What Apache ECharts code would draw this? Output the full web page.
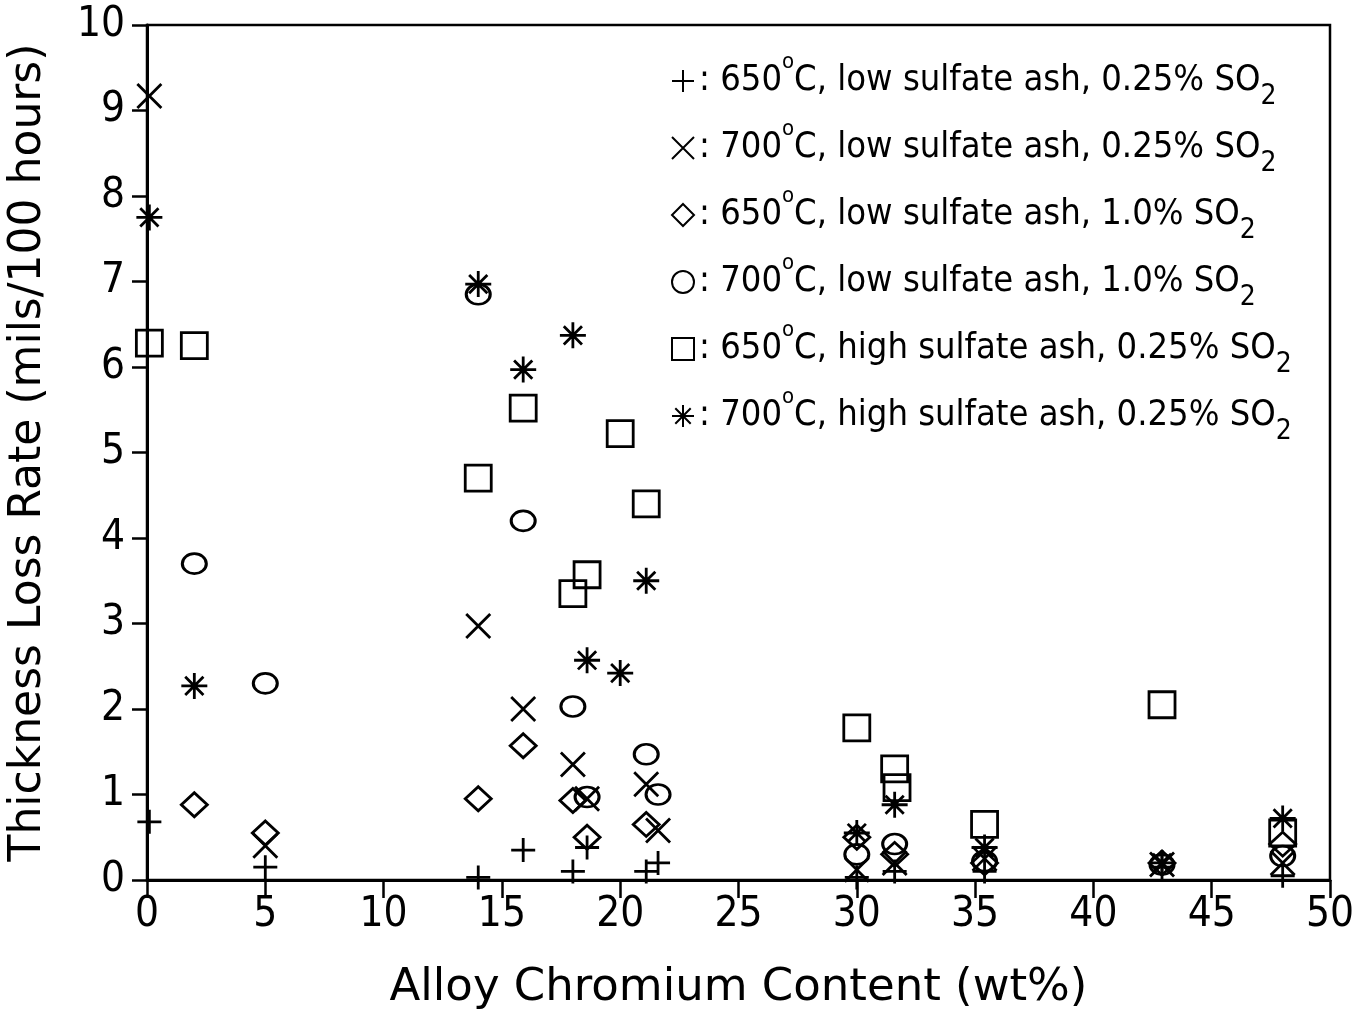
<!DOCTYPE html>
<html>
<head>
<meta charset="utf-8">
<script src="https://cdn.jsdelivr.net/npm/echarts@6/dist/echarts.min.js"></script>
<style>
html,body{margin:0;padding:0;background:#fff;}
#chart{width:1362px;height:1009px;}
</style>
</head>
<body>
<div id="chart"></div>
<script>
// ---- data (x = alloy Cr wt%, y = thickness loss rate, mils/100 h) ----
const xTicks = [0,5,10,15,20,25,30,35,40,45,50];
const yTicks = [0,1,2,3,4,5,6,7,8,9,10];

const plus650Low025 = [[0.1,0.68],[5,0.15],[14,0.03],[15.9,0.35],[18,0.1],[18.6,0.38],[21.1,0.1],[21.6,0.2],[30,0.03],[31.6,0.1],[35.4,0.1],[42.9,0.15],[48,0.05]];
const cross700Low025 = [[0.1,9.17],[5,0.4],[14,2.97],[15.9,2.0],[18,1.35],[18.6,0.95],[21.1,1.12],[21.6,0.58],[30,0.12],[31.6,0.2],[35.4,0.25],[42.9,0.18],[48,0.2]];
const diamond650Low10 = [[2,0.88],[5,0.55],[14,0.95],[15.9,1.57],[18,0.93],[18.6,0.5],[21.1,0.65],[30,0.5],[31.6,0.3],[35.4,0.2],[42.9,0.2],[48,0.42]];
const circle700Low10 = [[2,3.7],[5,2.3],[14,6.85],[15.9,4.2],[18,2.03],[18.6,0.97],[21.1,1.47],[21.6,1.0],[30,0.3],[31.6,0.42],[35.4,0.22],[42.9,0.18],[48,0.28]];
const square650High025 = [[0.1,6.28],[2,6.25],[14,4.7],[15.9,5.52],[18,3.35],[18.6,3.57],[20,5.22],[21.1,4.4],[30,1.78],[31.6,1.3],[31.7,1.08],[35.4,0.65],[42.9,2.05],[48,0.55]];
const star700High025 = [[0.1,7.75],[2,2.27],[14,6.97],[15.9,5.97],[18,6.37],[18.6,2.57],[20,2.42],[21.1,3.5],[30,0.55],[31.6,0.88],[35.4,0.38],[42.9,0.2],[48,0.72]];

const seriesNames = [
  '650°C, low sulfate ash, 0.25% SO2',
  '700°C, low sulfate ash, 0.25% SO2',
  '650°C, low sulfate ash, 1.0% SO2',
  '700°C, low sulfate ash, 1.0% SO2',
  '650°C, high sulfate ash, 0.25% SO2',
  '700°C, high sulfate ash, 0.25% SO2'
];

const NARROW = '"Liberation Sans Narrow","DejaVu Sans Condensed","Roboto Condensed",sans-serif';
const WIDE = '"DejaVu Sans","Liberation Sans",sans-serif';

const SYM_PLUS = 'path://M5,0 L5,10 M0,5 L10,5';
const SYM_CROSS = 'path://M0,0 L10,10 M10,0 L0,10';
const SYM_STAR = 'path://M5,0 L5,10 M0,5 L10,5 M1.5,1.5 L8.5,8.5 M8.5,1.5 L1.5,8.5';

function mk(name, data, symbol, size) {
  return {
    type: 'scatter', name: name, data: data,
    symbol: symbol, symbolSize: size,
    itemStyle: { color: 'rgba(0,0,0,0)', borderColor: '#000', borderWidth: 2.8, opacity: 1 },
    emphasis: { disabled: true },
    clip: false
  };
}

const chart = echarts.init(document.getElementById('chart'), null, {renderer: 'canvas'});

function legendText(name) {
  const m = name.match(/^(\d+)°C(.*)SO2$/);
  return '{t|: ' + m[1] + '}{sup|o}{t|C' + m[2] + 'SO}{sub|2}';
}

chart.setOption({
  backgroundColor: '#fff',
  animation: false,
  grid: { left: 147, right: 32, top: 25, bottom: 129, containLabel: false, outerBoundsMode: 'none',
          show: true, borderColor: '#000', borderWidth: 2.5, backgroundColor: 'transparent' },
  legend: {
    orient: 'vertical', left: 666, top: 46, itemGap: 7,
    itemWidth: 22, itemHeight: 22,
    data: seriesNames,
    formatter: legendText,
    selectedMode: false,
    itemStyle: { opacity: 1 },
    textStyle: {
      rich: {
        t: { fontFamily: NARROW, fontSize: 36, lineHeight: 60, color: '#000' },
        sup: { fontFamily: NARROW, fontSize: 22, lineHeight: 30, verticalAlign: 'top', color: '#000' },
        sub: { fontFamily: NARROW, fontSize: 28, lineHeight: 20, verticalAlign: 'bottom', color: '#000' }
      }
    }
  },
  xAxis: {
    type: 'value', min: xTicks[0], max: xTicks[xTicks.length-1], interval: 5,
    name: 'Alloy Chromium Content (wt%)', nameLocation: 'middle', nameGap: 86,
    nameTextStyle: { fontFamily: WIDE, fontSize: 45, color: '#000' },
    axisLine: { show: true, lineStyle: { color: '#000', width: 3 } },
    axisTick: { show: true, inside: false, length: 18, lineStyle: { color: '#000', width: 2.5 } },
    axisLabel: { fontFamily: NARROW, fontSize: 42, color: '#000', margin: 14 },
    splitLine: { show: false }
  },
  yAxis: {
    type: 'value', min: yTicks[0], max: yTicks[yTicks.length-1], interval: 1,
    name: 'Thickness Loss Rate (mils/100 hours)', nameLocation: 'middle', nameGap: 96,
    nameTextStyle: { fontFamily: WIDE, fontSize: 44, color: '#000' },
    axisLine: { show: true, lineStyle: { color: '#000', width: 3 } },
    axisTick: { show: true, inside: false, length: 15, lineStyle: { color: '#000', width: 2.5 } },
    axisLabel: { fontFamily: NARROW, fontSize: 42, color: '#000', margin: 22 },
    splitLine: { show: false }
  },
  series: [
    mk(seriesNames[0], plus650Low025, SYM_PLUS, 24),
    mk(seriesNames[1], cross700Low025, SYM_CROSS, 24),
    mk(seriesNames[2], diamond650Low10, 'diamond', [26, 24]),
    mk(seriesNames[3], circle700Low10, 'circle', [24, 20]),
    mk(seriesNames[4], square650High025, 'rect', 26),
    mk(seriesNames[5], star700High025, SYM_STAR, 26)
  ]
});
</script>
</body>
</html>
